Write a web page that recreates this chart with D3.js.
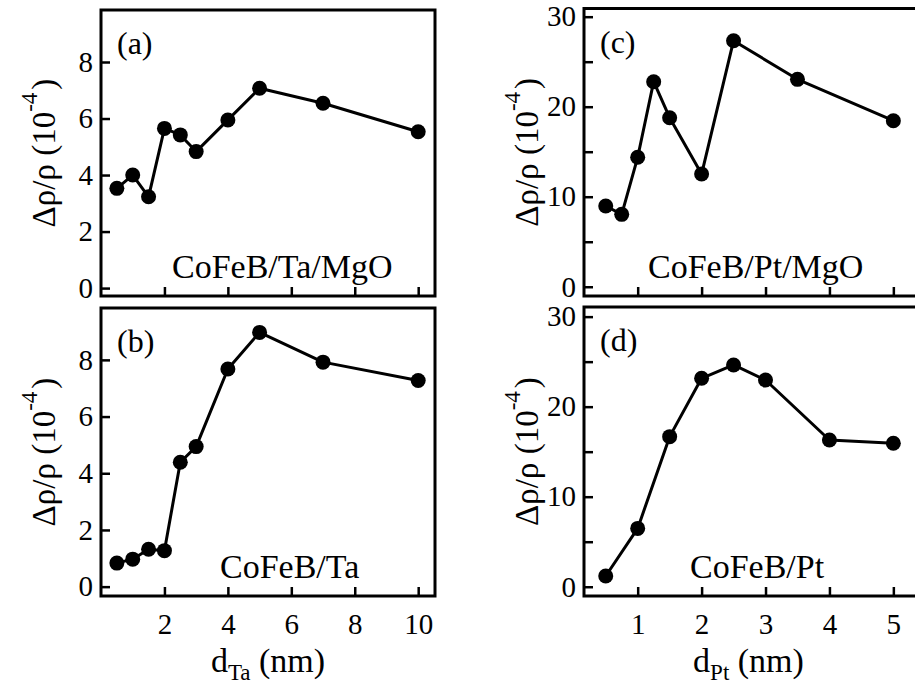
<!DOCTYPE html>
<html>
<head>
<meta charset="utf-8">
<script src="https://cdn.jsdelivr.net/npm/d3@7"></script>
<style>
  body { margin: 0; background: #fff; }
</style>
</head>
<body>
<div id="canvas"></div>
<script>
// thickness (nm) and AMR ratio (10^-4)
const taThickness = [0.5, 1, 1.5, 2, 2.5, 3, 4, 5, 7, 10];
const mrTaMgO = [3.53, 4.0, 3.23, 5.65, 5.42, 4.83, 5.95, 7.07, 6.54, 5.53];
const mrTa = [0.83, 0.97, 1.32, 1.27, 4.39, 4.94, 7.68, 8.97, 7.92, 7.27];

const ptThicknessMgO = [0.5, 0.75, 1, 1.25, 1.5, 2, 2.5, 3.5, 5];
const mrPtMgO = [8.97, 8.04, 14.38, 22.78, 18.78, 12.52, 27.33, 23.04, 18.44];
const ptThickness = [0.5, 1, 1.5, 2, 2.5, 3, 4, 5];
const mrPt = [1.19, 6.48, 16.67, 23.15, 24.63, 22.96, 16.3, 15.93];

const taTicksX = [2, 4, 6, 8, 10];
const taTicksY = [0, 2, 4, 6, 8];
const ptTicksX = [1, 2, 3, 4, 5];
const ptTicksY = [0, 10, 20, 30];
const ptMinorY = [5, 15, 25];

const width = 915, height = 684;
const fontFam = "'Liberation Serif'";

const panels = [
  { tag: "(a)", sample: "CoFeB/Ta/MgO", xs: taThickness, ys: mrTaMgO,
    box: [101, 10, 435, 296], xDom: [0, 10.53], yDom: [-0.28, 9.84],
    xTicks: taTicksX, yTicks: taTicksY, minor: [], xLabels: false, sampleX: 172, sub: "Ta" },
  { tag: "(b)", sample: "CoFeB/Ta", xs: taThickness, ys: mrTa,
    box: [101, 308, 435, 596], xDom: [0, 10.53], yDom: [-0.33, 9.83],
    xTicks: taTicksX, yTicks: taTicksY, minor: [], xLabels: true, sampleX: 220, sub: "Ta" },
  { tag: "(c)", sample: "CoFeB/Pt/MgO", xs: ptThicknessMgO, ys: mrPtMgO,
    box: [584, 8.5, 917, 296], xDom: [0.16, 5.37], yDom: [-1.03, 30.91],
    xTicks: ptTicksX, yTicks: ptTicksY, minor: ptMinorY, xLabels: false, sampleX: 648, sub: "Pt" },
  { tag: "(d)", sample: "CoFeB/Pt", xs: ptThickness, ys: mrPt,
    box: [584, 307, 917, 596], xDom: [0.16, 5.37], yDom: [-1.03, 31.07],
    xTicks: ptTicksX, yTicks: ptTicksY, minor: ptMinorY, xLabels: true, sampleX: 690, sub: "Pt" }
];

const svg = d3.select("#canvas").append("svg").attr("width", width).attr("height", height);
svg.append("rect").attr("width", width).attr("height", height).attr("fill", "#fff");

panels.forEach(p => {
  const [x0, y0, x1, y1] = p.box;
  const x = d3.scaleLinear().domain(p.xDom).range([x0, x1]);
  const y = d3.scaleLinear().domain(p.yDom).range([y1, y0]);
  const g = svg.append("g");

  // left axis, ticks pointing inward
  const ya = g.append("g").attr("transform", "translate(" + x0 + ",0)")
    .call(d3.axisLeft(y).tickValues(p.yTicks).tickSize(-9).tickPadding(8).tickFormat(d3.format("d")));
  ya.append("g").call(d3.axisLeft(y).tickValues(p.minor).tickSize(-9).tickFormat(""));
  ya.attr("font-family", null).attr("font-size", null);
  ya.selectAll(".domain").remove();
  ya.selectAll("line").attr("stroke", "#000").attr("stroke-width", 2.5);
  ya.selectAll("text").attr("font-size", 29).style("font-family", fontFam).attr("fill", "#000");

  // bottom axis
  const xa = g.append("g").attr("transform", "translate(0," + y1 + ")")
    .call(d3.axisBottom(x).tickValues(p.xTicks).tickSize(-9).tickPadding(17)
      .tickFormat(p.xLabels ? d3.format("d") : ""));
  xa.attr("font-family", null).attr("font-size", null);
  xa.selectAll(".domain").remove();
  xa.selectAll("line").attr("stroke", "#000").attr("stroke-width", 2.5);
  xa.selectAll("text").attr("font-size", 29).style("font-family", fontFam).attr("fill", "#000");

  // frame
  g.append("rect").attr("x", x0).attr("y", y0).attr("width", x1 - x0).attr("height", y1 - y0)
    .attr("fill", "none").attr("stroke", "#000").attr("stroke-width", 3);

  // y title
  const cy = (y0 + y1) / 2;
  const yt = g.append("text").attr("transform", "translate(" + (x0 - 46) + "," + cy + ") rotate(-90)")
    .attr("text-anchor", "middle").attr("font-size", 33).style("font-family", fontFam);
  yt.append("tspan").text("Δρ/ρ (10");
  yt.append("tspan").attr("font-size", 23).attr("dy", -18).text("-4");
  yt.append("tspan").attr("dy", 18).attr("dx", 3).text(")");

  // x title
  if (p.xLabels) {
    const xt = g.append("text").attr("x", (x0 + Math.min(x1, 913)) / 2).attr("y", 672)
      .attr("text-anchor", "middle").attr("font-size", 34).style("font-family", fontFam);
    xt.append("tspan").text("d");
    xt.append("tspan").attr("font-size", 23).attr("dy", 8).text(p.sub);
    xt.append("tspan").attr("dy", -8).text(" (nm)");
  }

  // annotations
  g.append("text").attr("x", x0 + 16).attr("y", y0 + 44).attr("font-size", 32)
    .style("font-family", fontFam).text(p.tag);
  g.append("text").attr("x", p.sampleX).attr("y", y1 - 18).attr("font-size", 34)
    .style("font-family", fontFam).text(p.sample);

  // series
  const pts = p.xs.map((d, i) => [d, p.ys[i]]);
  g.append("path").datum(pts)
    .attr("d", d3.line().x(d => x(d[0])).y(d => y(d[1])))
    .attr("fill", "none").attr("stroke", "#000").attr("stroke-width", 3).attr("stroke-linejoin", "round");
  g.append("g").selectAll("circle").data(pts).enter().append("circle")
    .attr("cx", d => x(d[0])).attr("cy", d => y(d[1])).attr("r", 7.5).attr("fill", "#000");
});
</script>
</body>
</html>
